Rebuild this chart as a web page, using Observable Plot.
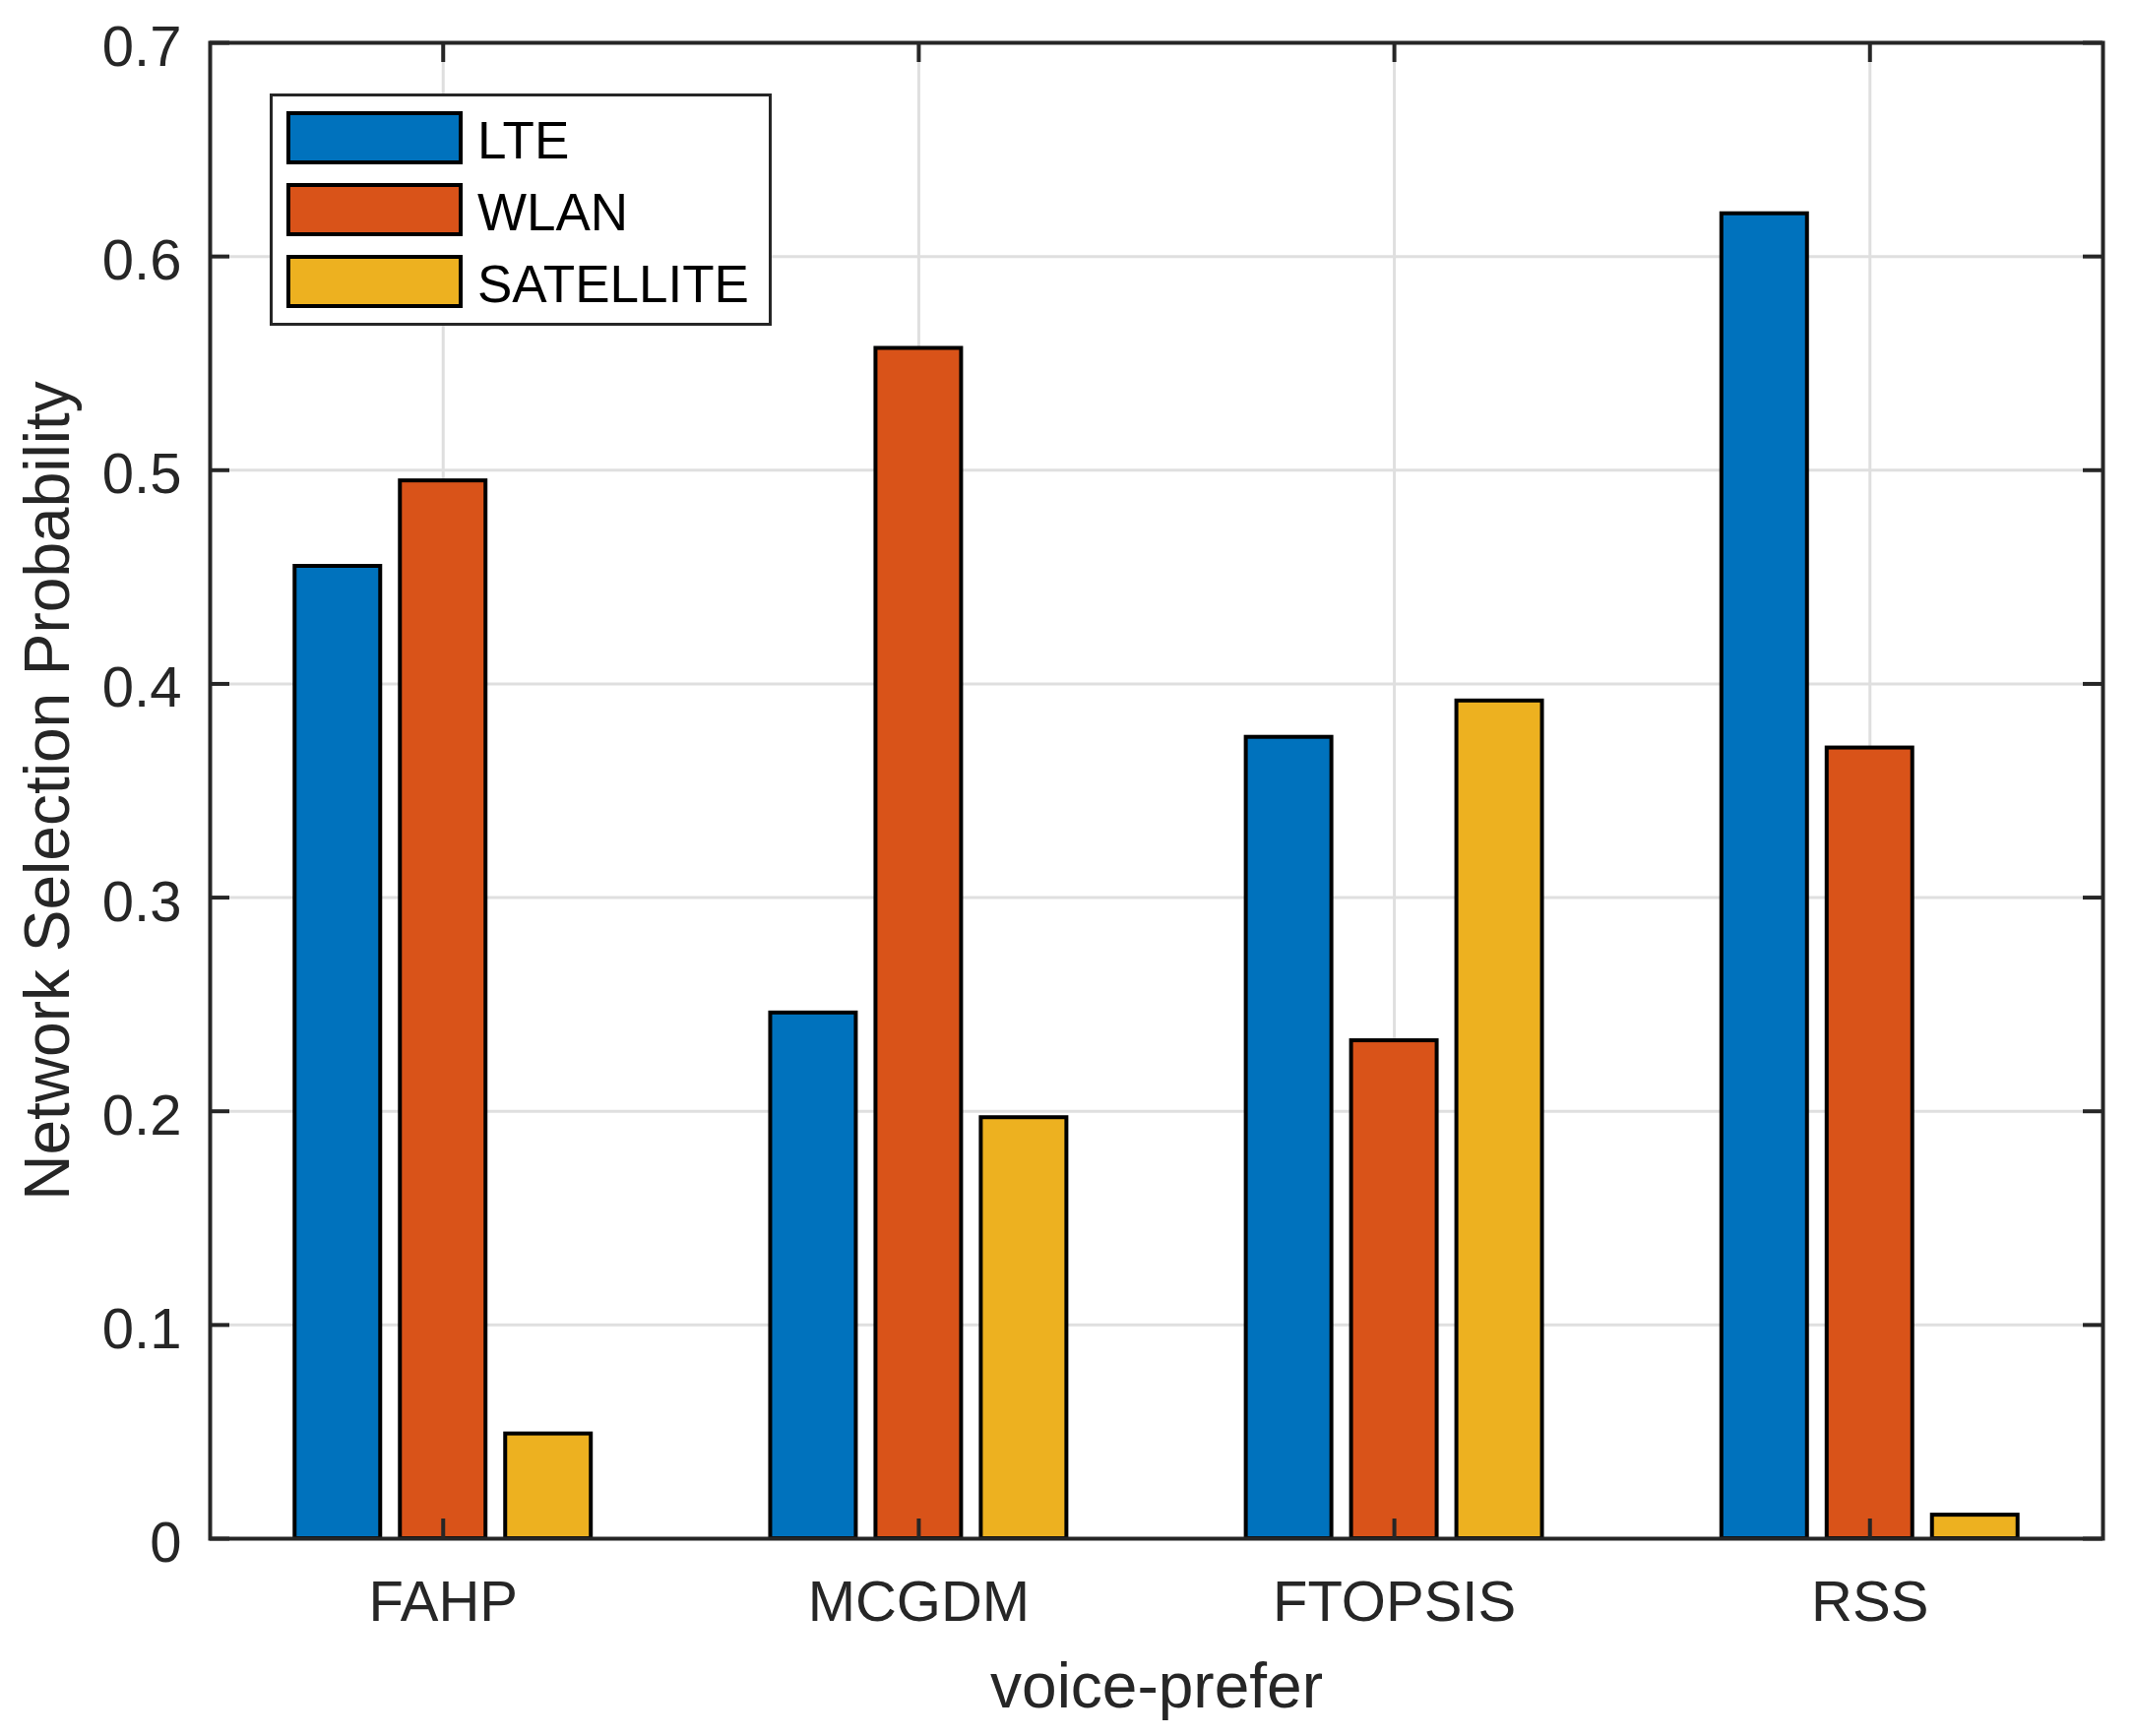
<!DOCTYPE html>
<html>
<head>
<meta charset="utf-8">
<script src="https://cdn.jsdelivr.net/npm/d3@7"></script>
<script src="https://cdn.jsdelivr.net/npm/@observablehq/plot@0.6"></script>
<style>
  html, body { margin: 0; padding: 0; background: #fff; }
  #wrap { position: relative; width: 2168px; height: 1764px; font-family: "Liberation Sans", Arial, sans-serif; }
  #legend { position: absolute; left: 274px; top: 95px; width: 510px; height: 236px; box-sizing: border-box;
            border: 3px solid #262626; background: #fff; }
  .item { position: absolute; left: 14px; height: 54px; }
  .sw { position: absolute; left: 0; top: 0; width: 179px; height: 54px; box-sizing: border-box; border: 4px solid #000; }
  .lab { position: absolute; left: 194px; top: 3px; line-height: 54px; font-size: 53px; color: #000; white-space: nowrap; }
</style>
</head>
<body>
<div id="wrap"></div>
<script>
// ---- data ----
const categories = ["FAHP", "MCGDM", "FTOPSIS", "RSS"];
const series = ["LTE", "WLAN", "SATELLITE"];
const lte = [0.455, 0.246, 0.375, 0.620];
const wlan = [0.495, 0.557, 0.233, 0.370];
const satellite = [0.049, 0.197, 0.392, 0.011];
const colors = ["#0072BD", "#D95319", "#EDB120"];
const yTicks = [0, 0.1, 0.2, 0.3, 0.4, 0.5, 0.6, 0.7];
const xTicks = [1, 2, 3, 4];
const xLabel = "voice-prefer";
const yLabel = "Network Selection Probability";

// ---- layout ----
const W = 2168, H = 1764;
const mL = 213, mR = 32, mT = 43, mB = 201;
const plotW = W - mL - mR, plotH = H - mT - mB;
const groupOffset = 0.2214, barW = 0.18, tickLen = 20;

const values = [lte, wlan, satellite];
const table = [];
categories.forEach((c, i) => {
  series.forEach((s, j) => {
    const center = (i + 1) + (j - 1) * groupOffset;
    table.push({category: c, series: s, value: values[j][i], x1: center - barW / 2, x2: center + barW / 2});
  });
});

const axisColor = "#262626";
const chart = Plot.plot({
  width: W, height: H,
  marginLeft: mL, marginRight: mR, marginTop: mT, marginBottom: mB,
  style: {fontFamily: "'Liberation Sans', Arial, sans-serif", fontSize: "58px", color: axisColor, background: "#fff"},
  x: {domain: [0.51, 4.49], axis: null},
  y: {domain: [0, 0.7], axis: null},
  color: {domain: series, range: colors},
  marks: [
    Plot.gridY(yTicks.slice(1), {stroke: "#dfdfdf", strokeOpacity: 1, strokeWidth: 3}),
    Plot.gridX(xTicks, {stroke: "#dfdfdf", strokeOpacity: 1, strokeWidth: 3}),
    Plot.rect(table, {x1: "x1", x2: "x2", y1: 0, y2: "value", fill: "series", stroke: "#000", strokeWidth: 4}),
    // inward ticks, all four sides
    Plot.ruleY(yTicks, {stroke: axisColor, strokeWidth: 4, insetRight: plotW - tickLen}),
    Plot.ruleY(yTicks, {stroke: axisColor, strokeWidth: 4, insetLeft: plotW - tickLen}),
    Plot.ruleX(xTicks, {stroke: axisColor, strokeWidth: 4, insetBottom: plotH - tickLen}),
    Plot.ruleX(xTicks, {stroke: axisColor, strokeWidth: 4, insetTop: plotH - tickLen}),
    Plot.frame({stroke: axisColor, strokeWidth: 4}),
    Plot.axisY(yTicks, {anchor: "left", tickSize: 0, tickPadding: 29, dy: 5, tickFormat: d => d === 0 ? "0" : d3.format(".1f")(d), label: null, fill: axisColor, fontSize: 58}),
    Plot.axisX(xTicks, {anchor: "bottom", tickSize: 0, tickPadding: 42, tickFormat: d => categories[d - 1], label: null, fill: axisColor, fontSize: 58}),
    Plot.text([xLabel], {text: d => d, frameAnchor: "bottom", lineAnchor: "bottom", dy: 171, fontSize: 64, fill: axisColor, textAnchor: "middle"}),
    Plot.text([yLabel], {text: d => d, frameAnchor: "left", rotate: -90, dx: -164, fontSize: 64, fill: axisColor, textAnchor: "middle"})
  ]
});

const wrap = document.getElementById("wrap");
wrap.appendChild(chart);

// ---- legend ----
const legend = document.createElement("div");
legend.id = "legend";
series.forEach((s, j) => {
  const item = document.createElement("div");
  item.className = "item";
  item.style.top = (15 + j * 73) + "px";
  const sw = document.createElement("div");
  sw.className = "sw";
  sw.style.background = colors[j];
  const lab = document.createElement("div");
  lab.className = "lab";
  lab.textContent = s;
  item.appendChild(sw);
  item.appendChild(lab);
  legend.appendChild(item);
});
wrap.appendChild(legend);
</script>
</body>
</html>
